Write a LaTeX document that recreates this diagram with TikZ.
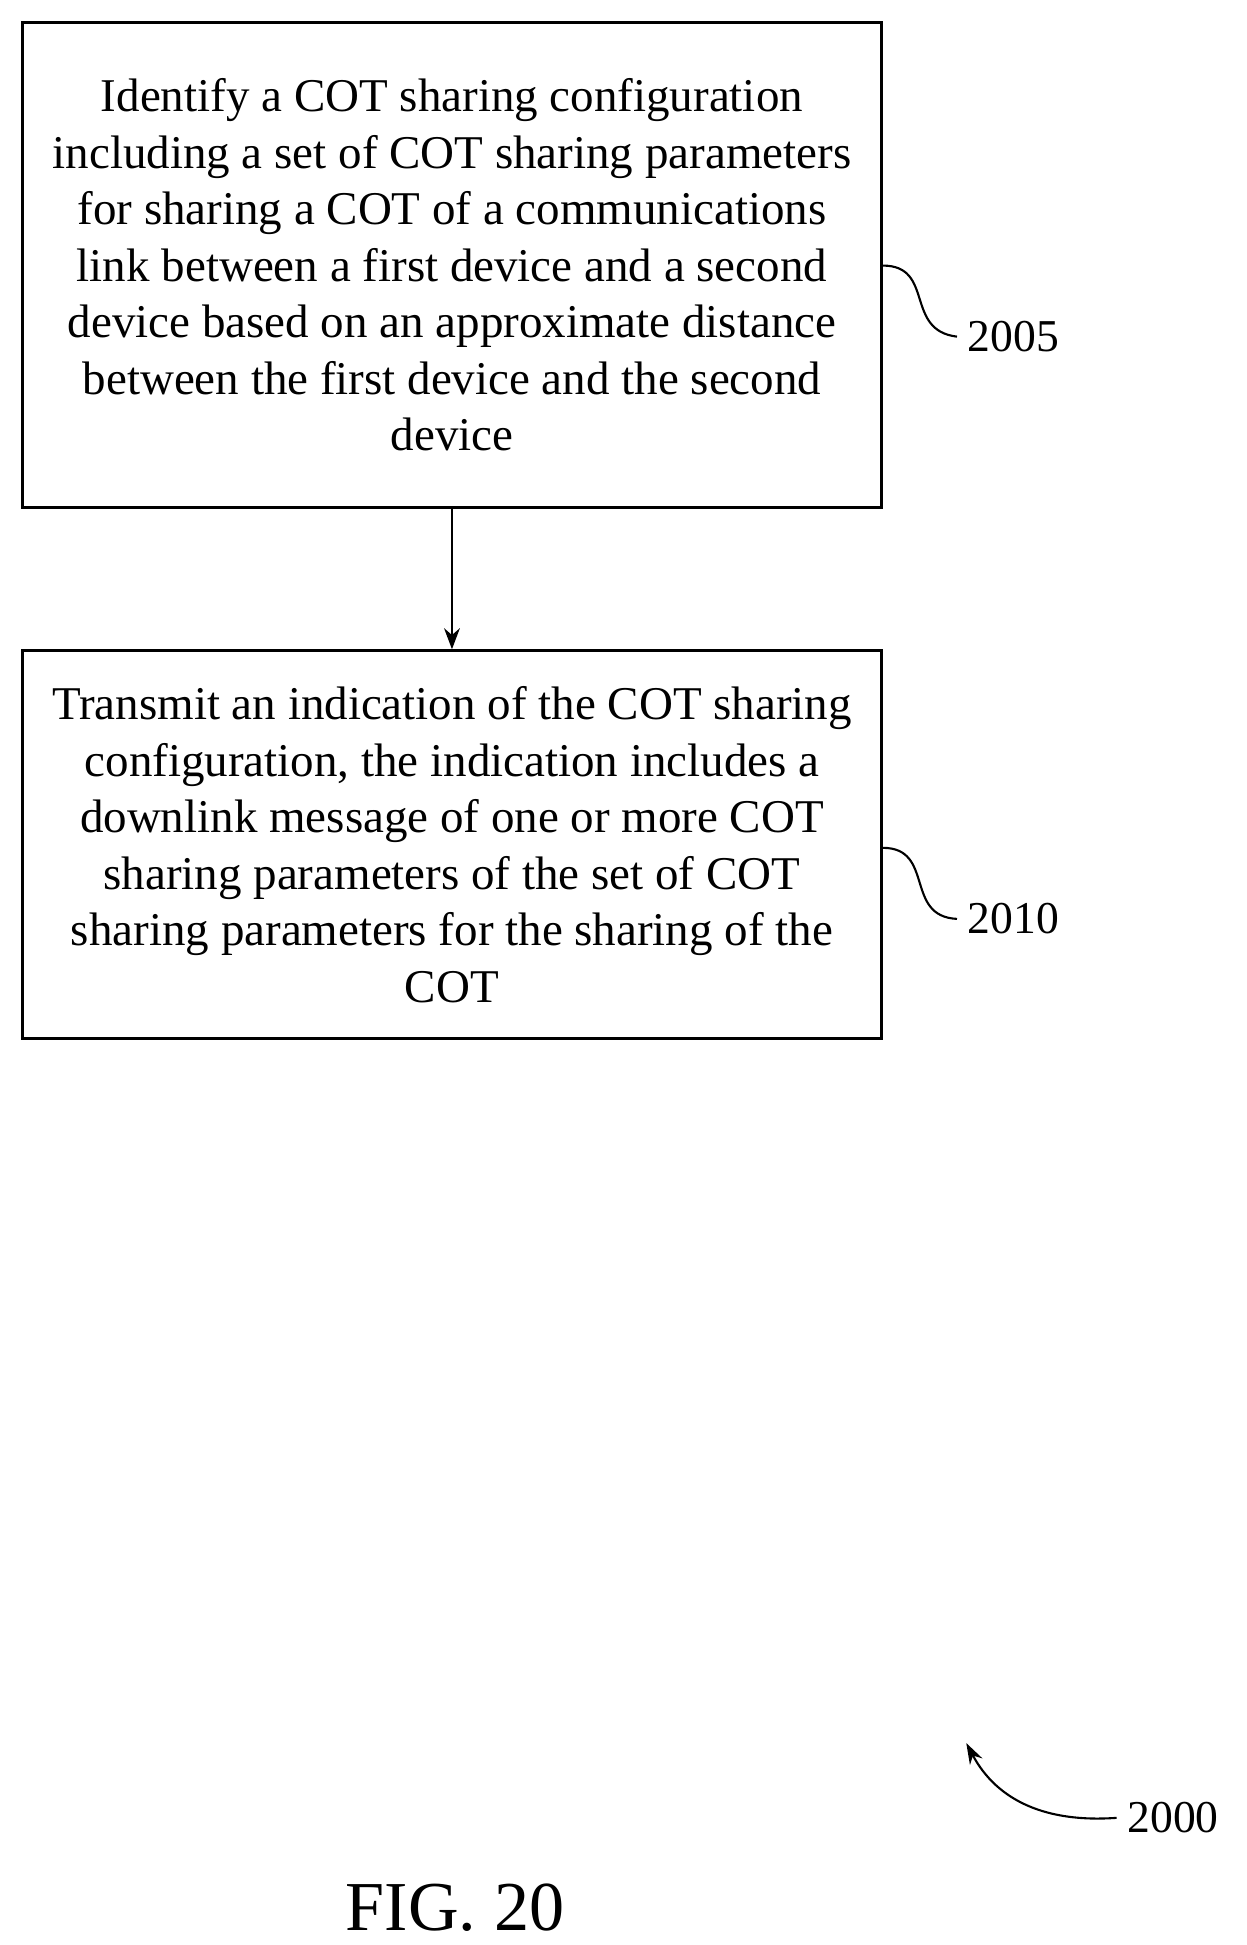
\documentclass[tikz,border=0pt]{standalone}
\usepackage{fontspec}
\setmainfont{Liberation Serif}
\usetikzlibrary{arrows.meta}
\tikzset{
  stepbox/.style={draw,line width=1.6pt,minimum width=17.22cm,align=center,
    font=\fontsize{26.8}{32.2}\selectfont,inner sep=0pt},
  reflabel/.style={font=\fontsize{26}{30}\selectfont,anchor=west,inner sep=0pt},
  squiggle/.style={line width=1.2pt}
}
\begin{document}
\begin{tikzpicture}[x=0.025cm,y=-0.025cm]
      \useasboundingbox (0,0) rectangle (1000,1560);
      \node[stepbox,minimum height=9.72cm] (s2005) at (362.5,212.5) {Identify a COT sharing configuration\\ including a set of COT sharing parameters\\ for sharing a COT of a communications\\ link between a first device and a second\\ device based on an approximate distance\\ between the first device and the second\\ device};
      \node[stepbox,minimum height=7.78cm] (s2010) at (362.5,677.5) {Transmit an indication of the COT sharing\\ configuration, the indication includes a\\ downlink message of one or more COT\\ sharing parameters of the set of COT\\ sharing parameters for the sharing of the\\ COT};
      \draw[-{Stealth[length=12pt,width=9pt]},line width=1.4pt] (s2005) -- (s2010);
      \node[reflabel] (l2005) at (776,270) {2005};
      \node[reflabel] (l2010) at (776,737) {2010};
      \node[reflabel] (l2000) at (904,1458) {2000};
      \node[font=\fontsize{40}{44}\selectfont] (fig) at (365,1530) {FIG. 20};
      \coordinate (a2005) at (708,213);
      \coordinate (a2010) at (708,680);
      \coordinate (a2000) at (775,1398);
      \draw[squiggle] (a2005) .. controls (750,213) and (725,265) .. ([xshift=-6]l2005.west);
      \draw[squiggle] (a2010) .. controls (750,680) and (725,735) .. ([xshift=-6]l2010.west);
      \draw[squiggle,-{Stealth[length=12pt,width=8pt]}] ([xshift=-6]l2000.west) .. controls (840,1462) and (800,1445) .. (a2000);
\end{tikzpicture}
\end{document}
